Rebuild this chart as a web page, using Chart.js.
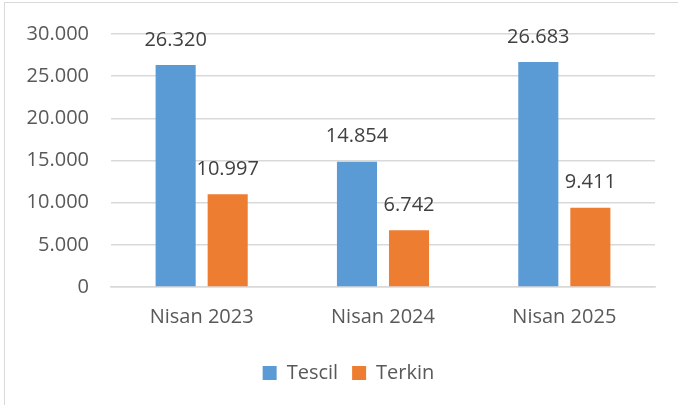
<!DOCTYPE html>
<html>
<head>
<meta charset="utf-8">
<script src="https://cdn.jsdelivr.net/npm/chart.js@4"></script>
<style>
  html, body { margin: 0; padding: 0; background: #fff; }
  #wrap { position: relative; width: 678px; height: 405px; overflow: hidden; }
  #frame { position: absolute; left: 4px; top: 2px; width: 720px; height: 440px; border: 1.5px solid #d9d9d9; }
  #myChart { position: absolute; left: 0; top: 0; }
</style>
</head>
<body>
<div id="wrap">
  <div id="frame"></div>
  <canvas id="myChart" width="678" height="405"></canvas>
</div>
<script>
const categories = ['Nisan 2023', 'Nisan 2024', 'Nisan 2025'];
const tescil = [26320, 14854, 26683];
const terkin = [10997, 6742, 9411];
const seriesNames = ['Tescil', 'Terkin'];
const yTicks = [0, 5000, 10000, 15000, 20000, 25000, 30000];

const fontFamily = '"Open Sans", "Noto Sans", sans-serif';

function trNumber(v) {
    return v.toLocaleString('de-DE');
}

// draws values above the bars
const valueLabels = {
    id: 'valueLabels',
    afterDatasetsDraw(chart) {
        const ctx = chart.ctx;
        ctx.save();
        ctx.font = '20px ' + fontFamily;
        ctx.fillStyle = '#404040';
        ctx.textAlign = 'center';
        ctx.textBaseline = 'middle';
        chart.data.datasets.forEach((ds, i) => {
            const meta = chart.getDatasetMeta(i);
            meta.data.forEach((bar, j) => {
                ctx.fillText(trNumber(ds.data[j]), bar.x, bar.y - 25);
            });
        });
        ctx.restore();
    }
};

// legend sits a bit right of the canvas centre in the original
const legendShift = {
    id: 'legendShift',
    afterLayout(chart) {
        chart.legend.left += 21;
        chart.legend.right += 21;
    }
};

var ctx = document.getElementById('myChart').getContext('2d');

new Chart(ctx, {
    type: 'bar',
    data: {
        labels: categories,
        datasets: [
            { label: seriesNames[0], data: tescil, backgroundColor: '#5B9BD5' },
            { label: seriesNames[1], data: terkin, backgroundColor: '#ED7D31' }
        ]
    },
    options: {
        responsive: false,
        animation: false,
        categoryPercentage: 0.574,
        barPercentage: 0.77,
        layout: { padding: { top: 31, right: 23, bottom: 12, left: 0 } },
        plugins: {
            tooltip: { enabled: false },
            legend: {
                position: 'bottom',
                labels: {
                    boxWidth: 14,
                    boxHeight: 14,
                    padding: 14,
                    color: '#595959',
                    font: { family: fontFamily, size: 20 }
                }
            }
        },
        scales: {
            x: {
                grid: { display: false, drawTicks: false },
                border: { color: '#d9d9d9', width: 1.5 },
                ticks: { color: '#595959', padding: 18, font: { family: fontFamily, size: 20 } },
                afterFit: s => { s.height = 62; }
            },
            y: {
                min: 0,
                max: 30000,
                afterBuildTicks: s => { s.ticks = yTicks.map(v => ({ value: v })); },
                grid: { color: '#d9d9d9', lineWidth: 1.5, drawTicks: false },
                border: { display: false },
                ticks: {
                    color: '#595959',
                    padding: 22,
                    font: { family: fontFamily, size: 20 },
                    callback: v => trNumber(v)
                },
                afterFit: s => { s.width = 111; }
            }
        }
    },
    plugins: [valueLabels, legendShift]
});
</script>
</body>
</html>
